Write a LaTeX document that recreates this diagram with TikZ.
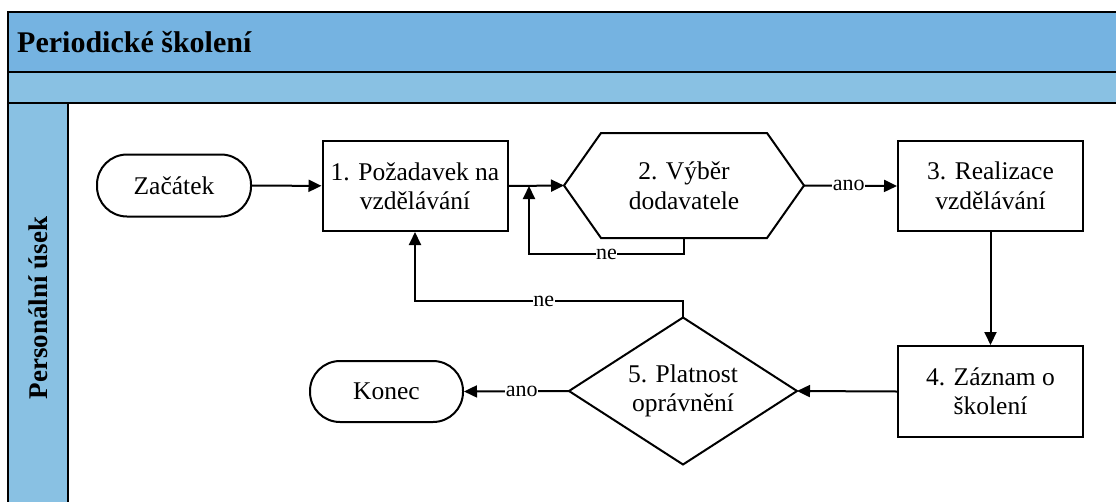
\documentclass[tikz,border=0pt]{standalone}
\usepackage{fontspec}
\setmainfont{Liberation Serif}[BoldFont={Liberation Serif Bold}]
\usetikzlibrary{arrows.meta,calc}

\definecolor{poolhead}{RGB}{117,179,225}
\definecolor{lanehead}{RGB}{137,193,227}

\begin{document}
\begin{tikzpicture}[x=1pt,y=-1pt,
  box/.style={draw,line width=2pt,minimum width=185pt,minimum height=90pt,
    inner sep=0pt,align=center,font=\fontsize{25.5}{29.5}\selectfont},
  term/.style={box,rounded corners=30pt,minimum width=154pt,minimum height=62pt},
  shapeonly/.style={box,draw=none},
  arr/.style={line width=2pt,-{Triangle[length=13pt,width=12pt]}},
  lbl/.style={fill=white,inner sep=0.6pt,font=\fontsize{22}{24}\selectfont}
]
\useasboundingbox (0,0) rectangle (1116,501);
\clip (0,0) rectangle (1116,501);

% pool and lane frame
\filldraw[fill=poolhead,line width=2.4pt] (8,12) rectangle (1125,72);
\filldraw[fill=lanehead,line width=2.4pt] (8,72) rectangle (1125,103);
\filldraw[fill=lanehead,line width=2.4pt] (8,103) rectangle (68,510);
\draw[line width=2.4pt] (68,103) rectangle (1125,510);
\node[anchor=base west,inner sep=0pt,font=\fontsize{30}{32}\selectfont\bfseries]
  (title) at (17,52) {Periodické školení};
\node[rotate=90,inner sep=0pt,font=\fontsize{27}{30}\selectfont\bfseries]
  (lane) at (38,308) {Personální úsek};

% process steps
\node[term] (start) at (174,185.5) {Začátek};
\node[box] (b1) at (415,186) {1. Požadavek na\\vzdělávání};
\node[shapeonly,minimum width=238pt,minimum height=103pt] (h2) at (684,185.5) {2. Výběr\\dodavatele};
\draw[line width=2pt] (h2.west) -- ($(h2.north west)+(37,0)$) -- ($(h2.north east)+(-37,0)$)
  -- (h2.east) -- ($(h2.south east)+(-37,0)$) -- ($(h2.south west)+(37,0)$) -- cycle;
\node[box] (b3) at (990.5,186) {3. Realizace\\vzdělávání};
\node[box,minimum height=91pt] (b4) at (990.5,391.5) {4. Záznam o\\školení};
\node[shapeonly,minimum width=226pt,minimum height=145pt] (d5) at (683,391) {5. Platnost\\oprávnění};
\draw[line width=2pt] (d5.north) -- (d5.east) -- (d5.south) -- (d5.west) -- cycle;
\node[term,minimum width=153pt,minimum height=61pt] (end) at (386.5,391.5) {Konec};

% connectors
\coordinate (join) at (529,186);
\draw[arr] (start) -- (b1);
\draw[arr] (b1.east) -- (h2.west);
\draw[arr] (h2.south) -- (h2.south |- 0,254) -- node[lbl]{ne} (join |- 0,254) -- (join);
\draw[arr] (h2.east) -- node[lbl,pos=0.48]{ano} (b3.west);
\draw[arr] (b3) -- (b4);
\draw[arr] (b4.west) -- (d5.east);
\draw[arr] (d5.west) -- node[lbl,pos=0.45]{ano} (end.east);
\draw[arr] (d5.north) -- (d5.north |- 0,301) -- node[lbl,pos=0.52]{ne} (b1.south |- 0,301) -- (b1.south);
\end{tikzpicture}
\end{document}
